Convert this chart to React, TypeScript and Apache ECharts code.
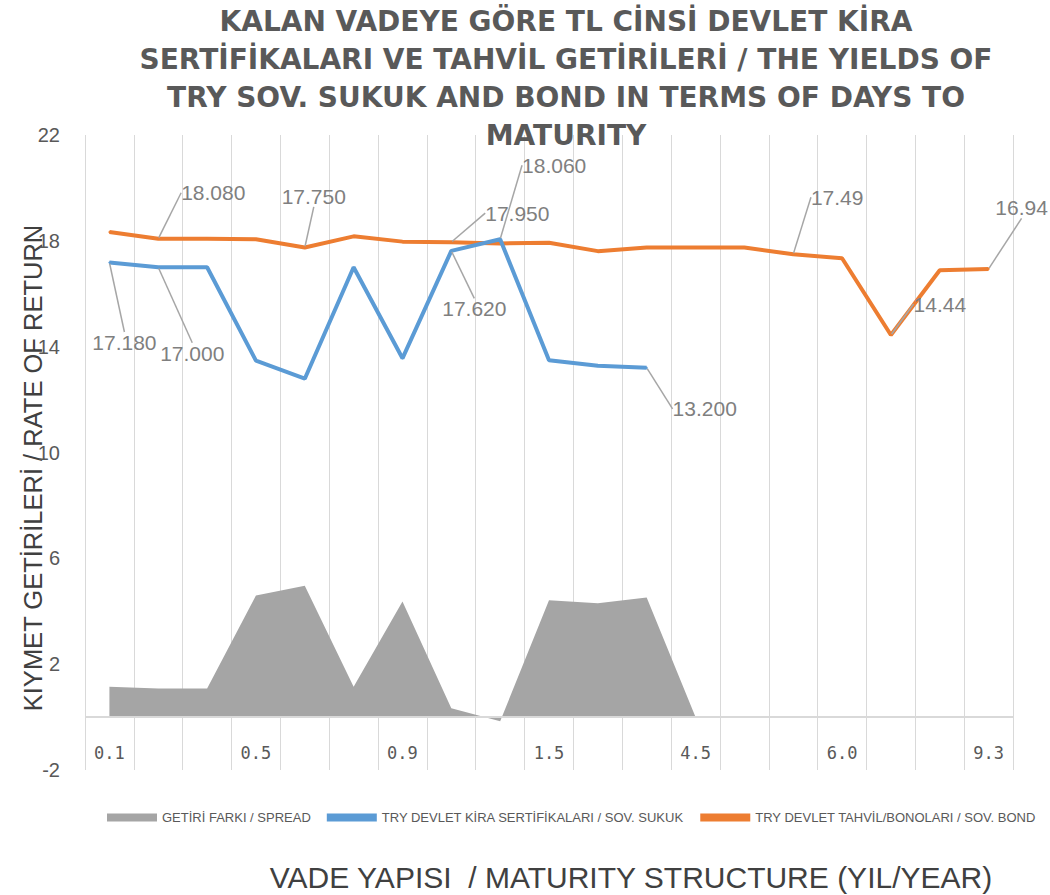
import React, { useEffect, useRef } from 'react';
import * as echarts from 'echarts';

// ---- data ----
const categories = ['0.1', '0.2', '0.3', '0.5', '0.6', '0.7', '0.9', '1.0', '1.2', '1.5', '2.0', '3.0', '4.5', '5.0', '5.5', '6.0', '7.0', '8.0', '9.3'];
const spreadValues = [1.15, 1.08, 1.08, 4.6, 4.96, 1.15, 4.37, 0.33, -0.16, 4.42, 4.3, 4.52, 0];
const sukukYields = [17.18, 17.0, 17.0, 13.47, 12.79, 17.0, 13.56, 17.62, 18.06, 13.49, 13.28, 13.2];
const bondYields = [18.33, 18.08, 18.08, 18.06, 17.75, 18.17, 17.97, 17.95, 17.9, 17.93, 17.61, 17.75, 17.75, 17.75, 17.49, 17.34, 14.44, 16.89, 16.94];
const yMin = -2;
const yMax = 22;
const yStep = 4;
const baseline = 0;

const seriesNames = ['GETİRİ FARKI / SPREAD', 'TRY DEVLET KİRA SERTİFİKALARI / SOV. SUKUK', 'TRY DEVLET TAHVİL/BONOLARI / SOV. BOND'];
const titleLines = ['KALAN VADEYE GÖRE TL CİNSİ DEVLET KİRA', 'SERTİFİKALARI VE TAHVİL GETİRİLERİ / THE YIELDS OF', 'TRY SOV. SUKUK AND BOND IN TERMS OF DAYS TO', 'MATURITY'];
const yAxisTitle = 'KIYMET GETİRİLERİ / RATE OF RETURN';
const xAxisTitle = 'VADE YAPISI  / MATURITY STRUCTURE (YIL/YEAR)';

// label callouts: which points carry labels, decimals shown, and offset of label from point
const sukukLabels = [
  { i: 0, d: 3, dx: 15, dy: 80 },
  { i: 1, d: 3, dx: 34, dy: 86 },
  { i: 7, d: 3, dx: 23, dy: 58 },
  { i: 8, d: 3, dx: 54, dy: -74 },
  { i: 11, d: 3, dx: 58, dy: 41 },
];
const bondLabels = [
  { i: 1, d: 3, dx: 55, dy: -46 },
  { i: 4, d: 3, dx: 9, dy: -51 },
  { i: 7, d: 3, dx: 66, dy: -29 },
  { i: 14, d: 2, dx: 44, dy: -57 },
  { i: 16, d: 2, dx: 49, dy: -31 },
  { i: 18, d: 2, dx: 33, dy: -61 },
];

const labelFont = { fontFamily: 'Liberation Sans', fontSize: 21, color: '#7f7f7f' };

function buildData(values: number[], specs: { i: number; d: number }[]) {
  return values.map((v, i) => {
    const s = specs.find((x) => x.i === i);
    if (!s) return v;
    return { value: v, label: { show: true, formatter: v.toFixed(s.d), ...labelFont } };
  });
}

function layoutFor(specs: { i: number; dx: number; dy: number }[]) {
  return (params: any) => {
    const s = specs.find((x) => x.i === params.dataIndex);
    if (!s) return {};
    const cx = params.rect.x + params.rect.width / 2;
    const cy = params.rect.y + params.rect.height / 2;
    return { x: cx + s.dx, y: cy + s.dy, align: 'center', verticalAlign: 'middle' };
  };
}

export default function App() {
  const ref = useRef<HTMLDivElement>(null);
  useEffect(() => {
    document.body.style.margin = '0';
    const chart = echarts.init(ref.current!, null, { renderer: 'svg' });
    const labelLine = { show: true, lineStyle: { color: '#a6a6a6', width: 1.5 } };
    chart.setOption({
      animation: false,
      backgroundColor: '#ffffff',
      grid: { left: 85, right: 37, top: 135, bottom: 125, containLabel: false },
      legend: {
        left: 102,
        top: 806,
        itemWidth: 50,
        itemHeight: 8,
        itemGap: 16,
        icon: 'rect',
        textStyle: { fontFamily: 'Liberation Sans', fontSize: 13, color: '#595959' },
        data: seriesNames,
      },
      xAxis: {
        type: 'category',
        data: categories,
        boundaryGap: true,
        position: 'bottom',
        axisLine: { show: false, onZero: false },
        axisTick: { show: false },
        axisLabel: { interval: 2, inside: true, margin: 9, fontFamily: 'DejaVu Sans Mono', fontSize: 17, color: '#595959' },
        splitLine: { show: true, interval: 0, lineStyle: { color: '#d9d9d9', width: 1 } },
      },
      yAxis: {
        type: 'value',
        min: yMin,
        max: yMax,
        interval: yStep,
        axisLine: { show: false },
        axisTick: { show: false },
        splitLine: { show: false },
        axisLabel: { margin: 25, fontFamily: 'Liberation Sans', fontSize: 20, color: '#595959' },
      },
      graphic: [
        {
          type: 'text',
          x: 566,
          y: 78,
          style: {
            text: titleLines.join('\n'),
            fill: '#595959',
            fontFamily: 'DejaVu Sans',
            fontWeight: 'bold',
            fontSize: 28,
            lineHeight: 38,
            textAlign: 'center',
            textVerticalAlign: 'middle',
          },
          z: 100,
        },
        {
          type: 'text',
          x: 33,
          y: 468,
          rotation: Math.PI / 2,
          style: {
            text: yAxisTitle,
            fill: '#404040',
            fontFamily: 'Liberation Sans',
            fontSize: 25.5,
            textAlign: 'center',
            textVerticalAlign: 'middle',
          },
        },
        {
          type: 'text',
          x: 631,
          y: 877,
          style: {
            text: xAxisTitle,
            fill: '#404040',
            fontFamily: 'Liberation Sans',
            fontSize: 30,
            textAlign: 'center',
            textVerticalAlign: 'middle',
          },
        },
      ],
      series: [
        {
          name: seriesNames[0],
          type: 'line',
          data: spreadValues,
          symbol: 'none',
          lineStyle: { width: 0, color: '#a5a5a5' },
          itemStyle: { color: '#a5a5a5' },
          areaStyle: { color: '#a5a5a5', opacity: 1 },
          markLine: {
            silent: true,
            symbol: ['none', 'none'],
            label: { show: false },
            lineStyle: { color: '#d9d9d9', width: 2, type: 'solid' },
            data: [{ yAxis: baseline }],
          },
          z: 1,
        },
        {
          name: seriesNames[1],
          type: 'line',
          data: buildData(sukukYields, sukukLabels),
          symbol: 'circle',
          symbolSize: 2,
          showSymbol: true,
          itemStyle: { color: '#5b9bd5' },
          lineStyle: { width: 4, color: '#5b9bd5' },
          label: { show: false },
          labelLine,
          labelLayout: layoutFor(sukukLabels),
          z: 3,
        },
        {
          name: seriesNames[2],
          type: 'line',
          data: buildData(bondYields, bondLabels),
          symbol: 'circle',
          symbolSize: 2,
          showSymbol: true,
          itemStyle: { color: '#ed7d31' },
          lineStyle: { width: 4, color: '#ed7d31' },
          label: { show: false },
          labelLine,
          labelLayout: layoutFor(bondLabels),
          z: 2,
        },
      ],
    });
    return () => chart.dispose();
  }, []);
  return <div ref={ref} style={{ width: 1050, height: 895 }} />;
}
